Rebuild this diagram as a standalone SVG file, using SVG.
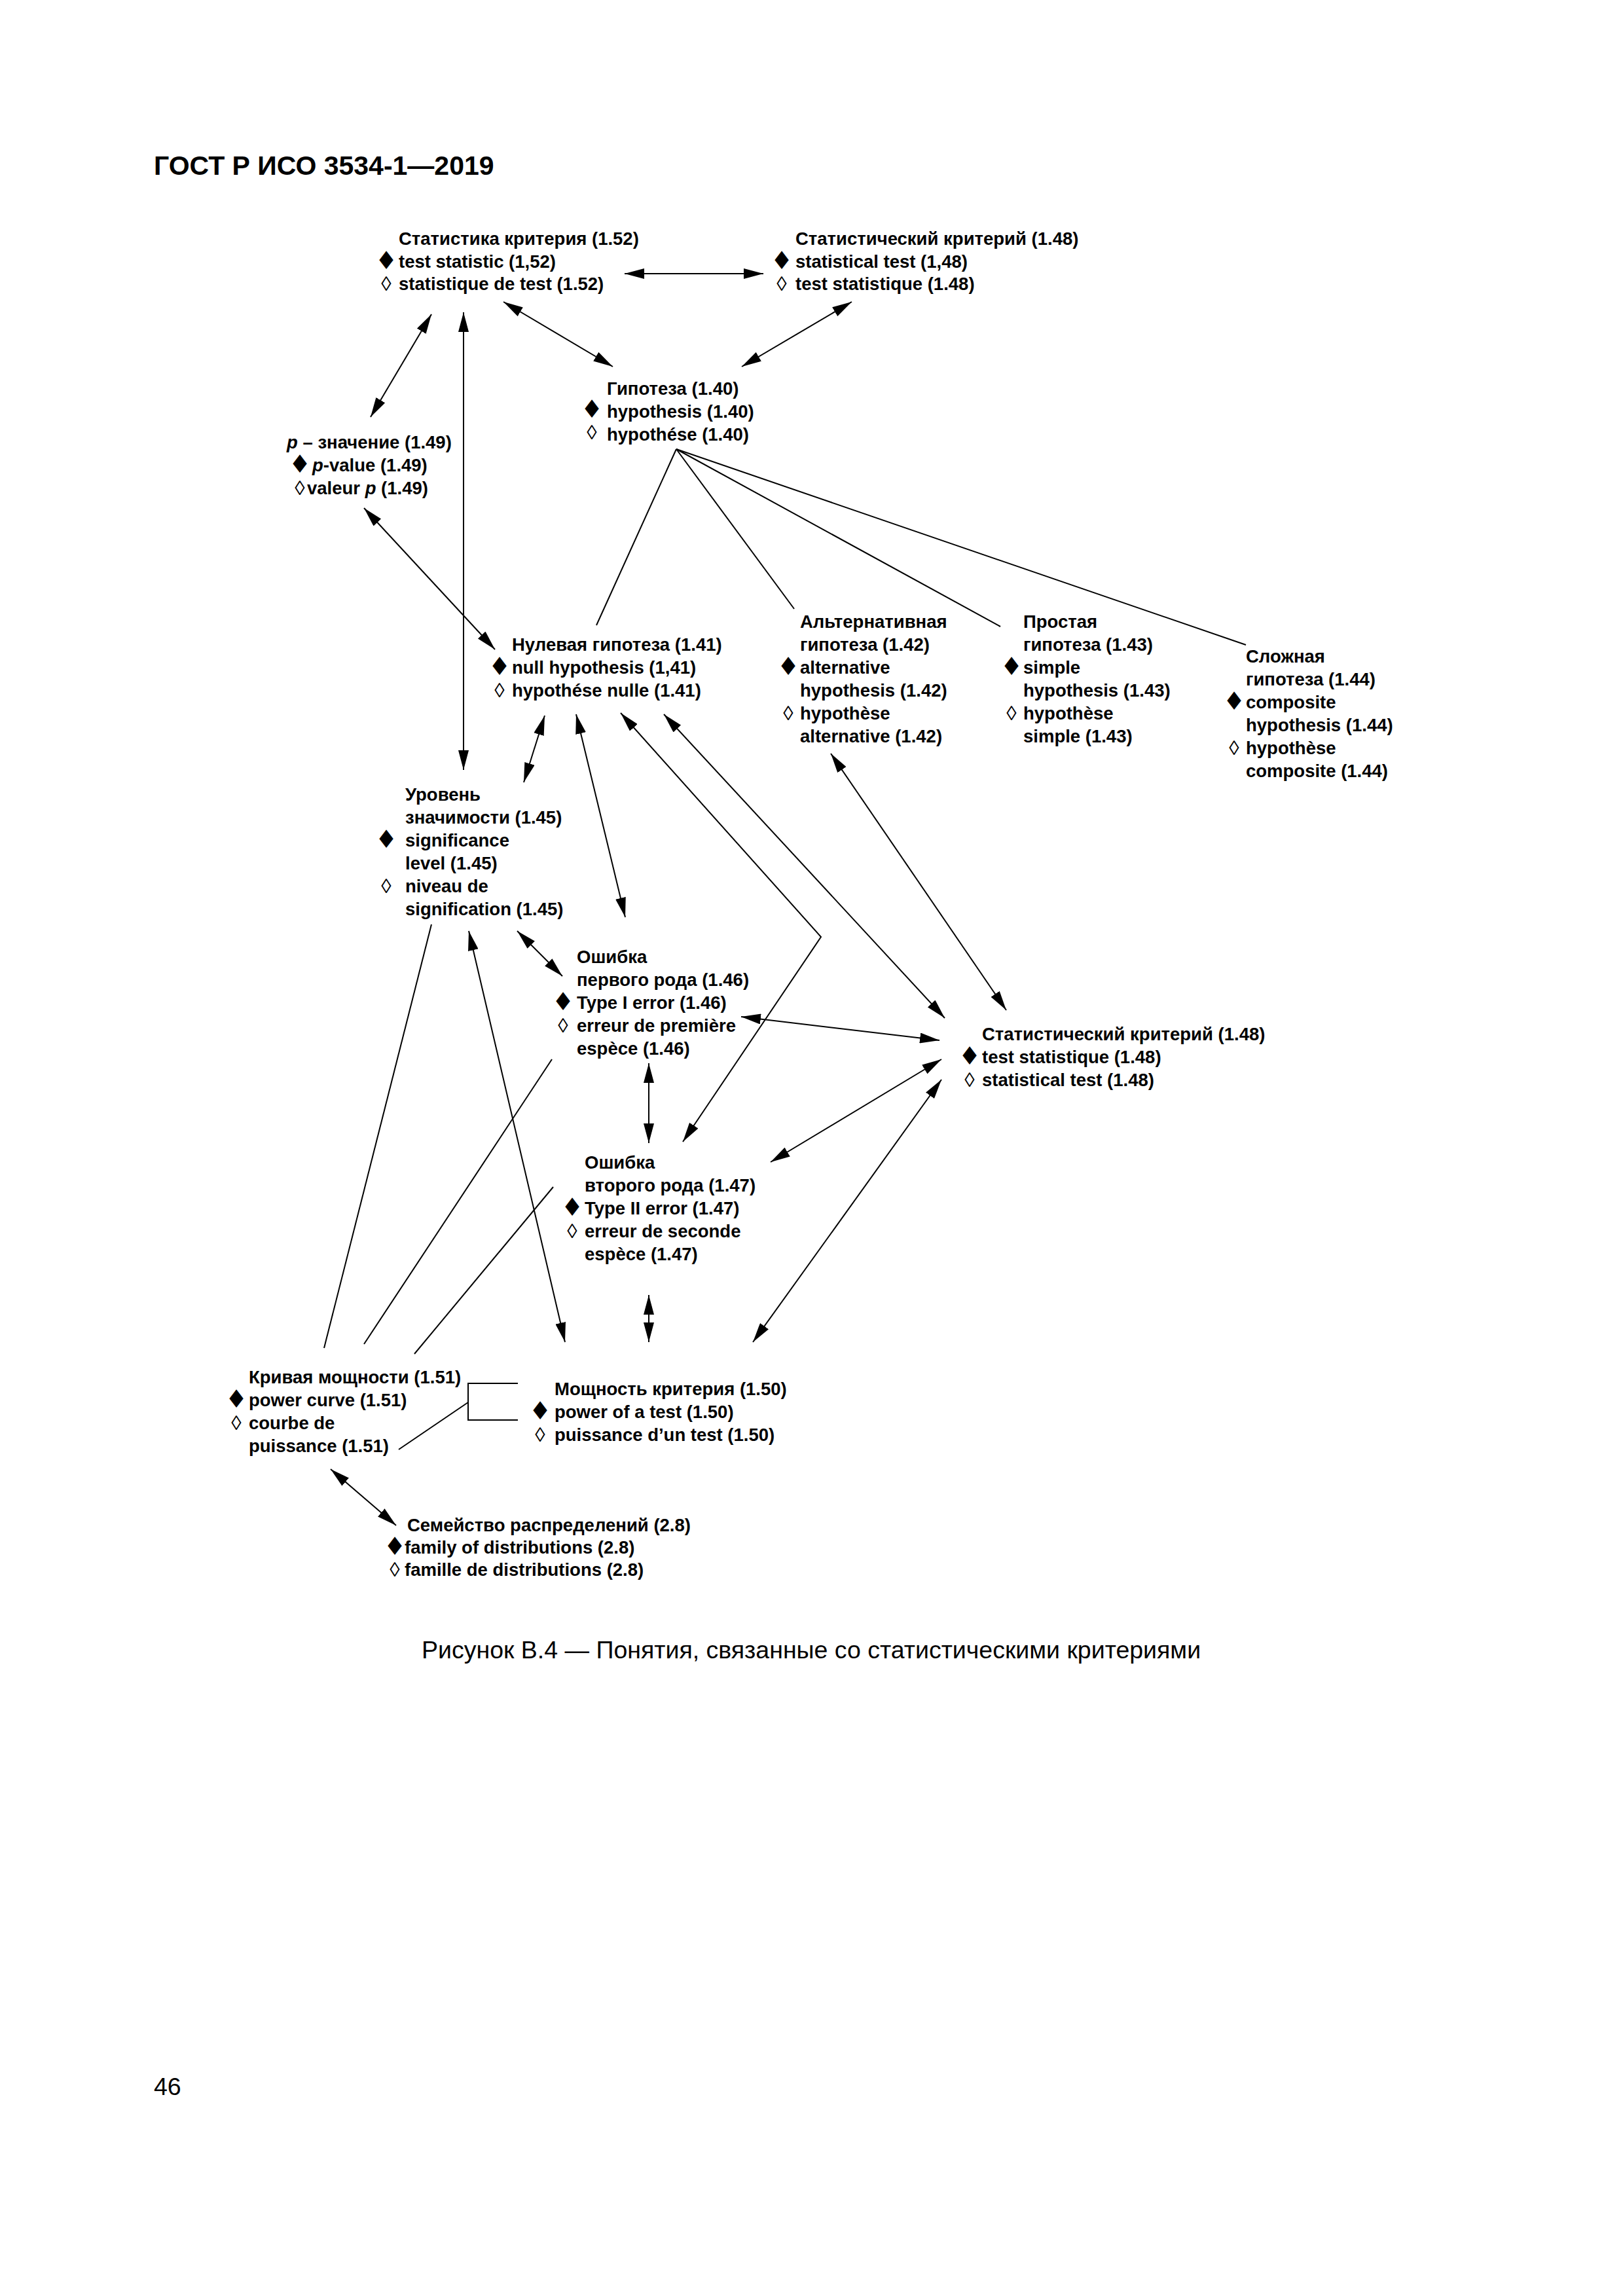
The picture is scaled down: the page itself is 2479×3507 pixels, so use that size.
<svg xmlns="http://www.w3.org/2000/svg" width="2479" height="3507" viewBox="0 0 2479 3507">
<defs>
<marker id="ah" viewBox="0 0 30 16" refX="30" refY="8" markerWidth="30" markerHeight="16" markerUnits="userSpaceOnUse" orient="auto-start-reverse"><path d="M0,0 L30,8 L0,16 z" fill="#000"/></marker>
</defs>
<style>
text{font-family:"Liberation Sans",Arial,sans-serif;fill:#000}
.t{font-size:27.5px;font-weight:bold}
.d{font-family:"DejaVu Sans",sans-serif;font-size:38px;text-anchor:middle}
.w{font-size:31px;text-anchor:middle}
.h{font-size:41px;font-weight:bold}
.cap{font-size:37.5px}
.ln{stroke:#000;stroke-width:2;fill:none}
.ar{marker-start:url(#ah);marker-end:url(#ah)}
</style>
<rect width="2479" height="3507" fill="#fff"/>
<text class="h" x="235" y="267">ГОСТ Р ИСО 3534-1—2019</text>

<g id="connectors">
<line class="ln ar" x1="954" y1="418" x2="1166" y2="418"/>
<line class="ln ar" x1="769" y1="461" x2="936" y2="560"/>
<line class="ln ar" x1="1301" y1="461" x2="1133" y2="560"/>
<line class="ln ar" x1="659" y1="480" x2="566" y2="637"/>
<line class="ln ar" x1="708" y1="477" x2="708" y2="1176"/>
<line class="ln ar" x1="556" y1="776" x2="756" y2="992"/>
<line class="ln" x1="1033" y1="686" x2="911" y2="955"/>
<line class="ln" x1="1033" y1="686" x2="1213" y2="930"/>
<line class="ln" x1="1033" y1="686" x2="1528" y2="957"/>
<line class="ln" x1="1033" y1="686" x2="1903" y2="985"/>
<line class="ln ar" x1="832" y1="1093" x2="800" y2="1195"/>
<line class="ln ar" x1="880" y1="1091" x2="955" y2="1401"/>
<polyline class="ln ar" points="948,1089 1254,1431 1043,1744"/>
<line class="ln ar" x1="1014" y1="1091" x2="1443" y2="1555"/>
<line class="ln ar" x1="1269" y1="1151" x2="1537" y2="1543"/>
<line class="ln ar" x1="790" y1="1422" x2="859" y2="1491"/>
<line class="ln ar" x1="1132" y1="1553" x2="1435" y2="1589"/>
<line class="ln ar" x1="991" y1="1624" x2="991" y2="1746"/>
<line class="ln ar" x1="1177" y1="1775" x2="1438" y2="1618"/>
<line class="ln ar" x1="1150" y1="2050" x2="1438" y2="1649"/>
<line class="ln ar" x1="991" y1="1978" x2="991" y2="2050"/>
<line class="ln ar" x1="716" y1="1422" x2="863" y2="2050"/>
<line class="ln" x1="495" y1="2059" x2="659" y2="1412"/>
<line class="ln" x1="556" y1="2053" x2="843" y2="1618"/>
<line class="ln" x1="633" y1="2068" x2="845" y2="1813"/>
<path class="ln" d="M791,2113 H715 V2169 H791"/>
<line class="ln" x1="715" y1="2142" x2="609" y2="2214"/>
<line class="ln ar" x1="505" y1="2244" x2="605" y2="2330"/>
</g>

<g id="node-1-52">
<text class="t" x="609" y="374">Статистика критерия (1.52)</text>
<text class="d" x="590" y="411">♦</text><text class="t" x="609" y="409">test statistic (1,52)</text>
<text class="w" x="590" y="444">◊</text><text class="t" x="609" y="443">statistique de test (1.52)</text>
</g>
<g id="node-1-48-top">
<text class="t" x="1215" y="374">Статистический критерий (1.48)</text>
<text class="d" x="1194" y="411">♦</text><text class="t" x="1215" y="409">statistical test (1,48)</text>
<text class="w" x="1194" y="444">◊</text><text class="t" x="1215" y="443">test statistique (1.48)</text>
</g>
<g id="node-1-40">
<text class="t" x="927" y="603">Гипотеза (1.40)</text>
<text class="d" x="904" y="638">♦</text><text class="t" x="927" y="638">hypothesis (1.40)</text>
<text class="w" x="904" y="671">◊</text><text class="t" x="927" y="673">hypothése (1.40)</text>
</g>
<g id="node-1-49">
<text class="t" x="438" y="685"><tspan font-style="italic">p</tspan> – значение (1.49)</text>
<text class="d" x="458" y="722">♦</text><text class="t" x="477" y="720"><tspan font-style="italic">p</tspan>-value (1.49)</text>
<text class="w" x="458" y="756">◊</text><text class="t" x="469" y="755">valeur <tspan font-style="italic">p</tspan> (1.49)</text>
</g>
<g id="node-1-41">
<text class="t" x="782" y="994">Нулевая гипотеза (1.41)</text>
<text class="d" x="763" y="1031">♦</text><text class="t" x="782" y="1029">null hypothesis (1,41)</text>
<text class="w" x="763" y="1065">◊</text><text class="t" x="782" y="1064">hypothése nulle (1.41)</text>
</g>
<g id="node-1-42">
<text class="t" x="1222" y="959">Альтернативная</text>
<text class="t" x="1222" y="994">гипотеза (1.42)</text>
<text class="d" x="1204" y="1031">♦</text><text class="t" x="1222" y="1029">alternative</text>
<text class="t" x="1222" y="1064">hypothesis (1.42)</text>
<text class="w" x="1204" y="1100">◊</text><text class="t" x="1222" y="1099">hypothèse</text>
<text class="t" x="1222" y="1134">alternative (1.42)</text>
</g>
<g id="node-1-43">
<text class="t" x="1563" y="959">Простая</text>
<text class="t" x="1563" y="994">гипотеза (1.43)</text>
<text class="d" x="1545" y="1031">♦</text><text class="t" x="1563" y="1029">simple</text>
<text class="t" x="1563" y="1064">hypothesis (1.43)</text>
<text class="w" x="1545" y="1100">◊</text><text class="t" x="1563" y="1099">hypothèse</text>
<text class="t" x="1563" y="1134">simple (1.43)</text>
</g>
<g id="node-1-44">
<text class="t" x="1903" y="1012">Сложная</text>
<text class="t" x="1903" y="1047">гипотеза (1.44)</text>
<text class="d" x="1885" y="1084">♦</text><text class="t" x="1903" y="1082">composite</text>
<text class="t" x="1903" y="1117">hypothesis (1.44)</text>
<text class="w" x="1885" y="1153">◊</text><text class="t" x="1903" y="1152">hypothèse</text>
<text class="t" x="1903" y="1187">composite (1.44)</text>
</g>
<g id="node-1-45">
<text class="t" x="619" y="1223">Уровень</text>
<text class="t" x="619" y="1258">значимости (1.45)</text>
<text class="d" x="590" y="1295">♦</text><text class="t" x="619" y="1293">significance</text>
<text class="t" x="619" y="1328">level (1.45)</text>
<text class="w" x="590" y="1364">◊</text><text class="t" x="619" y="1363">niveau de</text>
<text class="t" x="619" y="1398">signification (1.45)</text>
</g>
<g id="node-1-46">
<text class="t" x="881" y="1471">Ошибка</text>
<text class="t" x="881" y="1506">первого рода (1.46)</text>
<text class="d" x="860" y="1543">♦</text><text class="t" x="881" y="1541">Type I error (1.46)</text>
<text class="w" x="860" y="1577">◊</text><text class="t" x="881" y="1576">erreur de première</text>
<text class="t" x="881" y="1611">espèce (1.46)</text>
</g>
<g id="node-1-48">
<text class="t" x="1500" y="1589">Статистический критерий (1.48)</text>
<text class="d" x="1481" y="1626">♦</text><text class="t" x="1500" y="1624">test statistique (1.48)</text>
<text class="w" x="1481" y="1660">◊</text><text class="t" x="1500" y="1659">statistical test (1.48)</text>
</g>
<g id="node-1-47">
<text class="t" x="893" y="1785">Ошибка</text>
<text class="t" x="893" y="1820">второго рода (1.47)</text>
<text class="d" x="874" y="1857">♦</text><text class="t" x="893" y="1855">Type II error (1.47)</text>
<text class="w" x="874" y="1891">◊</text><text class="t" x="893" y="1890">erreur de seconde</text>
<text class="t" x="893" y="1925">espèce (1.47)</text>
</g>
<g id="node-1-51">
<text class="t" x="380" y="2113">Кривая мощности (1.51)</text>
<text class="d" x="361" y="2150">♦</text><text class="t" x="380" y="2148">power curve (1.51)</text>
<text class="w" x="361" y="2184">◊</text><text class="t" x="380" y="2183">courbe de</text>
<text class="t" x="380" y="2218">puissance (1.51)</text>
</g>
<g id="node-1-50">
<text class="t" x="847" y="2131">Мощность критерия (1.50)</text>
<text class="d" x="825" y="2168">♦</text><text class="t" x="847" y="2166">power of a test (1.50)</text>
<text class="w" x="825" y="2202">◊</text><text class="t" x="847" y="2201">puissance d’un test (1.50)</text>
</g>
<g id="node-2-8">
<text class="t" x="622" y="2339">Семейство распределений (2.8)</text>
<text class="d" x="603" y="2375">♦</text><text class="t" x="618" y="2373">family of distributions (2.8)</text>
<text class="w" x="603" y="2408">◊</text><text class="t" x="618" y="2407">famille de distributions (2.8)</text>
</g>

<text class="cap" x="644" y="2533">Рисунок В.4 — Понятия, связанные со статистическими критериями</text>
<text class="cap" x="235" y="3200">46</text>
</svg>
